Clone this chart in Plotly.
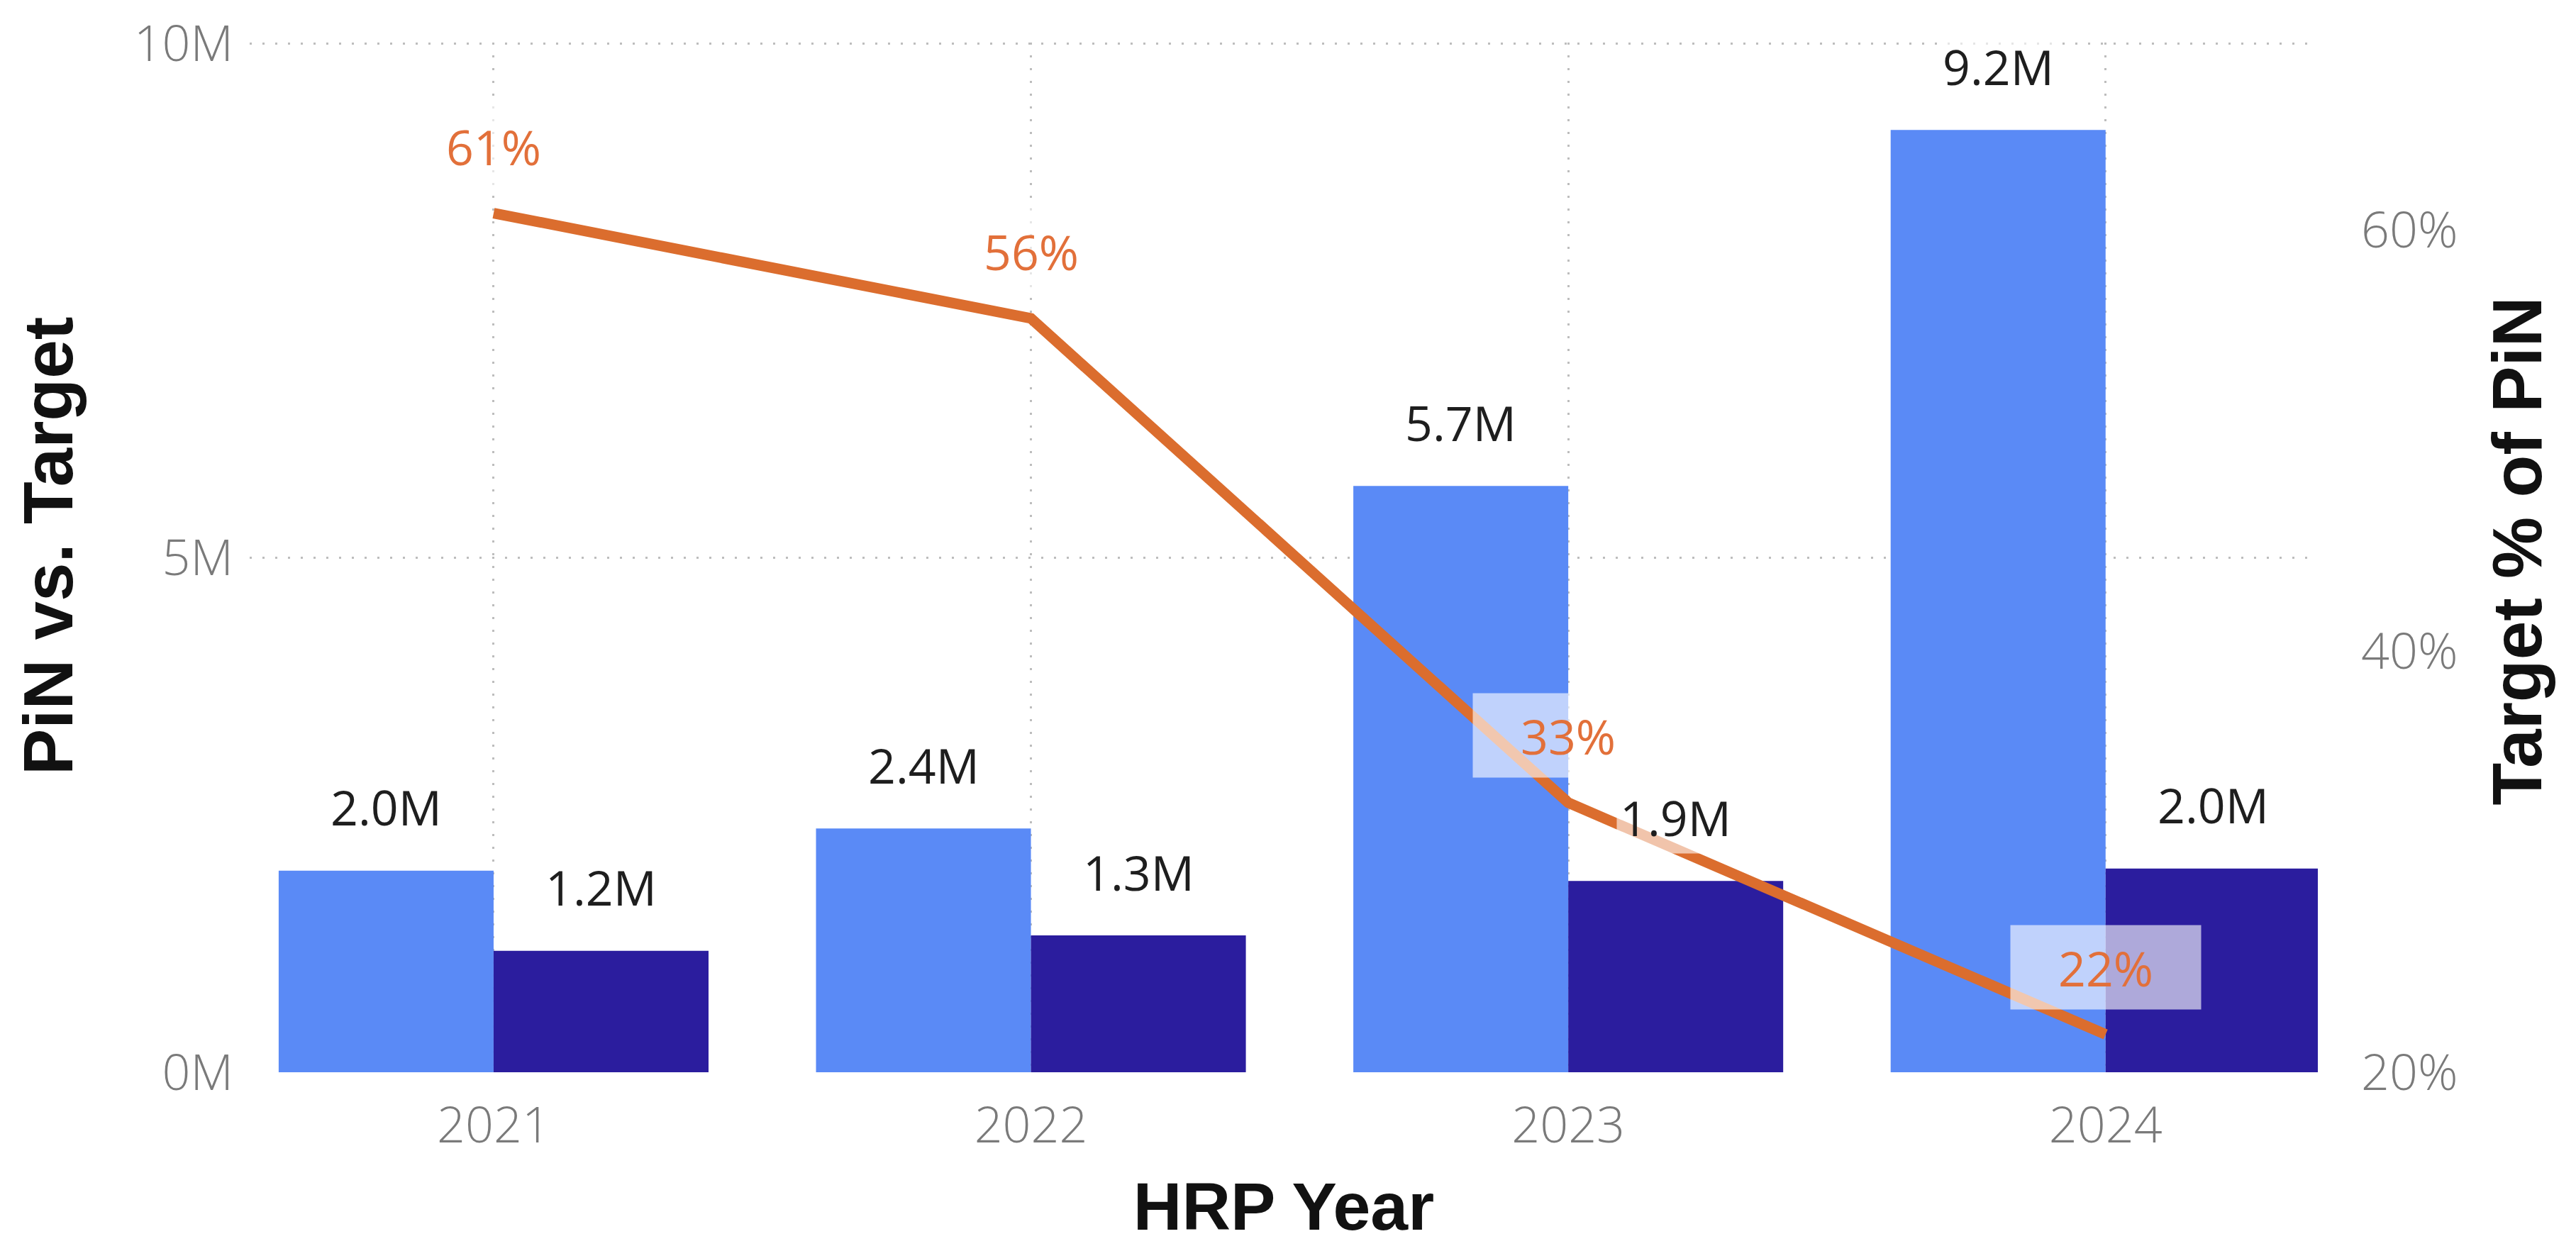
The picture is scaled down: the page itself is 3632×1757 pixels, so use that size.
import plotly.graph_objects as go

years = ["2021", "2022", "2023", "2024"]
pin_values = [1.96e6, 2.37e6, 5.70e6, 9.16e6]
target_values = [1.18e6, 1.33e6, 1.86e6, 1.98e6]
target_pct = [0.608, 0.558, 0.328, 0.218]
left_ticks = [0, 5e6, 10e6]
left_tick_text = ["0M", "5M", "10M"]
right_ticks = [0.2, 0.4, 0.6]
right_tick_text = ["20%", "40%", "60%"]

xpos = list(range(len(years)))

LIGHT = "#5A8AF6"
DARK = "#2B1D9E"
ORANGE = "#DB6D2E"
LABEL_ORANGE = "#E2703A"
GRID = "#BDBDBD"
GRID_DASH = "3px,15px"
TICK_FONT = dict(family="Open Sans", size=70, color="#7A7A7A", weight=300)
TITLE_FONT = dict(family="Liberation Sans", size=98, color="#111111", weight=700)
BAR_LABEL_FONT = dict(family="Open Sans", size=68, color="#1E1E1E", weight=400)

BARGAP = 0.2
bar_w = (1 - BARGAP) / 2

fig = go.Figure()

fig.add_trace(go.Bar(
    x=xpos, y=pin_values, name="PiN",
    marker=dict(color=LIGHT, line=dict(width=0)),
))
fig.add_trace(go.Bar(
    x=xpos, y=target_values, name="Target",
    marker=dict(color=DARK, line=dict(width=0)),
))
fig.add_trace(go.Scatter(
    x=xpos, y=target_pct, yaxis="y2", mode="lines", name="Target % of PiN",
    line=dict(color=ORANGE, width=15),
))

# bar data labels
for series, sign in ((pin_values, -1), (target_values, 1)):
    for xi, v in zip(xpos, series):
        fig.add_annotation(
            x=xi + sign * bar_w / 2, y=v, xref="x", yref="y",
            text=f"{v/1e6:.1f}M", showarrow=False, yanchor="middle", yshift=90,
            font=BAR_LABEL_FONT, bgcolor="rgba(255,255,255,0.6)", borderpad=4,
        )

# line data labels
for xi, p in zip(xpos, target_pct):
    fig.add_annotation(
        x=xi, y=p, xref="x", yref="y2", text=f"{p:.0%}",
        showarrow=False, yshift=95,
        font=dict(family="Open Sans", size=68, color=LABEL_ORANGE, weight=400),
        bgcolor="rgba(255,255,255,0.62)", width=250, height=100, borderpad=9,
    )

# vertical axis titles
fig.add_annotation(
    text="PiN vs. Target", xref="paper", yref="paper", x=-0.0974, y=0.511,
    xanchor="center", yanchor="middle", textangle=-90, showarrow=False,
    font=TITLE_FONT,
)
fig.add_annotation(
    text="Target % of PiN", xref="paper", yref="paper", x=1.0964, y=0.506,
    xanchor="center", yanchor="middle", textangle=-90, showarrow=False,
    font=TITLE_FONT,
)

fig.update_layout(
    width=3632, height=1757,
    paper_bgcolor="white", plot_bgcolor="white",
    margin=dict(l=344, r=372, t=52, b=253, autoexpand=False),
    barmode="group", bargap=BARGAP, bargroupgap=0,
    showlegend=False,
    xaxis=dict(
        range=[-0.454, 3.395], tickvals=xpos, ticktext=years,
        showgrid=True, gridcolor=GRID, gridwidth=3, griddash=GRID_DASH,
        zeroline=False, showline=False, ticks="", automargin=False,
        tickfont=TICK_FONT, ticklabelstandoff=28,
        title=dict(text="HRP Year", font=dict(TITLE_FONT, size=95), standoff=36),
    ),
    yaxis=dict(
        range=[0, 10.01e6], tickvals=left_ticks, ticktext=left_tick_text,
        showgrid=True, gridcolor=GRID, gridwidth=3, griddash=GRID_DASH,
        zeroline=False, showline=False, ticks="", automargin=False,
        tickfont=TICK_FONT, ticklabelstandoff=22, ticklabeloverflow="allow",
    ),
    yaxis2=dict(
        overlaying="y", side="right",
        range=[0.2, 0.689], tickvals=right_ticks, ticktext=right_tick_text,
        showgrid=False, zeroline=False, showline=False, ticks="", automargin=False,
        tickfont=TICK_FONT, ticklabelstandoff=60, ticklabeloverflow="allow",
    ),
)

fig.write_html("out.html")
